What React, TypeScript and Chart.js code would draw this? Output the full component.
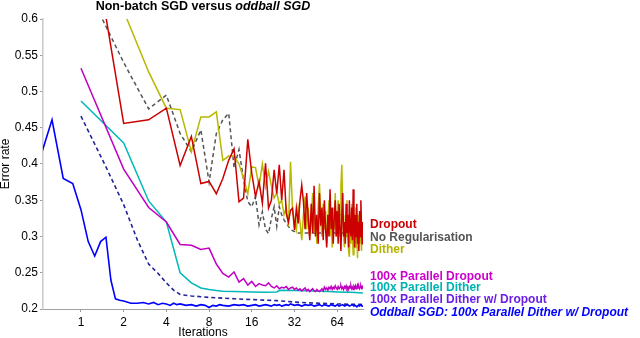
import React, { useEffect, useRef } from "react";
import { Chart, registerables } from "chart.js";

Chart.register(...registerables);

// ---------- data ----------
const iterations = [
  1, 2, 3, 4, 5, 6, 7, 8, 9, 10, 11, 12, 13, 14, 15, 16, 17, 18, 19, 20,
  21, 22, 23, 24, 25, 26, 27, 28, 29, 30, 31, 32, 33, 34, 35, 36, 37, 38, 39, 40,
  41, 42, 43, 44, 45, 46, 47, 48, 49, 50, 51, 52, 53, 54, 55, 56, 57, 58, 59, 60,
  61, 62, 63, 64, 65, 66, 67, 68, 69, 70, 71, 72, 73, 74, 75, 76, 77, 78, 79, 80,
  81, 82, 83, 84, 85, 86, 87, 88, 89, 90, 91, 92, 93, 94, 95, 96, 97,
];

const dropout = [
  0.81, 0.456, 0.461, 0.477, 0.398, 0.438, 0.373, 0.376, 0.359, 0.38,
  0.405, 0.421, 0.348, 0.353, 0.434, 0.387, 0.355, 0.376, 0.346, 0.401,
  0.339, 0.35, 0.392, 0.359, 0.399, 0.35, 0.392, 0.332, 0.32, 0.336,
  0.339, 0.309, 0.339, 0.318, 0.35, 0.371, 0.348, 0.31, 0.36, 0.325,
  0.295, 0.345, 0.305, 0.37, 0.3, 0.33, 0.29, 0.36, 0.315, 0.34,
  0.295, 0.35, 0.31, 0.285, 0.33, 0.3, 0.365, 0.31, 0.34, 0.29,
  0.325, 0.35, 0.3, 0.335, 0.29, 0.345, 0.31, 0.28, 0.33, 0.36,
  0.3, 0.32, 0.29, 0.345, 0.305, 0.33, 0.285, 0.35, 0.31, 0.3,
  0.34, 0.295, 0.365, 0.31, 0.285, 0.33, 0.3, 0.345, 0.29, 0.32,
  0.28, 0.335, 0.3, 0.35, 0.31, 0.29, 0.32,
];

const noRegularisation = [
  0.66, 0.54, 0.476, 0.495, 0.442, 0.417, 0.447, 0.375, 0.442, 0.461,
  0.47, 0.395, 0.42, 0.378, 0.348, 0.341, 0.355, 0.316, 0.334, 0.31,
  0.304, 0.325, 0.341, 0.314, 0.341, 0.33, 0.323, 0.318, 0.314, 0.31,
  0.308, 0.307, 0.305, 0.305, 0.305, 0.305, 0.305, 0.305, 0.305, 0.305,
  0.305, 0.305, 0.305, 0.305, 0.305, 0.305, 0.305, 0.305, 0.305, 0.305,
  0.305, 0.305, 0.305, 0.305, 0.305, 0.305, 0.305, 0.305, 0.305, 0.305,
  0.305, 0.305, 0.305, 0.305, 0.305, 0.305, 0.305, 0.305, 0.305, 0.305,
  0.305, 0.305, 0.305, 0.305, 0.305, 0.305, 0.305, 0.305, 0.305, 0.305,
  0.305, 0.305, 0.305, 0.305, 0.305, 0.305, 0.305, 0.305, 0.305, 0.305,
  0.305, 0.305, 0.305, 0.305, 0.305, 0.305, 0.305,
];

const dither = [
  0.75, 0.611, 0.527, 0.477, 0.475, 0.417, 0.465, 0.465, 0.472, 0.405,
  0.411, 0.411, 0.4, 0.38, 0.359, 0.396, 0.395, 0.369, 0.4, 0.369,
  0.39, 0.37, 0.353, 0.36, 0.345, 0.35, 0.33, 0.34, 0.314, 0.403,
  0.337, 0.32, 0.309, 0.339, 0.32, 0.295, 0.33, 0.355, 0.31, 0.34,
  0.3, 0.325, 0.36, 0.305, 0.33, 0.29, 0.34, 0.373, 0.32, 0.3,
  0.345, 0.31, 0.335, 0.29, 0.32, 0.35, 0.3, 0.33, 0.285, 0.34,
  0.31, 0.36, 0.3, 0.325, 0.35, 0.3, 0.33, 0.37, 0.399, 0.34,
  0.3, 0.285, 0.33, 0.3, 0.35, 0.31, 0.28, 0.272, 0.32, 0.29,
  0.345, 0.3, 0.275, 0.33, 0.3, 0.34, 0.285, 0.31, 0.27, 0.33,
  0.3, 0.29, 0.335, 0.3, 0.28, 0.31, 0.29,
];

const parallelDropout = [
  0.532, 0.393, 0.34, 0.32, 0.289, 0.288, 0.282, 0.284, 0.262, 0.249,
  0.244, 0.251, 0.237, 0.242, 0.233, 0.238, 0.231, 0.235, 0.233, 0.232,
  0.236, 0.231, 0.229, 0.232, 0.228, 0.23, 0.229, 0.231, 0.227, 0.229,
  0.23, 0.227, 0.229, 0.226, 0.228, 0.225, 0.227, 0.229, 0.225, 0.227,
  0.224, 0.226, 0.228, 0.225, 0.224, 0.227, 0.225, 0.224, 0.226, 0.228,
  0.225, 0.23, 0.227, 0.229, 0.226, 0.23, 0.228, 0.231, 0.227, 0.23,
  0.228, 0.232, 0.229, 0.227, 0.231, 0.228, 0.23, 0.232, 0.228, 0.23,
  0.227, 0.231, 0.229, 0.232, 0.228, 0.23, 0.227, 0.231, 0.229, 0.232,
  0.228, 0.23, 0.227, 0.231, 0.229, 0.232, 0.228, 0.23, 0.233, 0.229,
  0.231, 0.228, 0.23, 0.232, 0.229, 0.231, 0.229,
];

const parallelDitherX = [1, 2, 3, 4, 5, 6, 7, 8, 9, 10, 12, 14, 16, 20, 24, 25, 26, 32, 40, 48, 56, 64, 80, 97];
const parallelDither = [
  0.487, 0.429, 0.349, 0.32, 0.25, 0.236, 0.229, 0.227, 0.2255, 0.2245,
  0.224, 0.2238, 0.2235, 0.2232, 0.2235, 0.2255, 0.2258, 0.2255, 0.2252, 0.2245,
  0.224, 0.2235, 0.223, 0.2222,
];

const parallelDitherDropoutX = [1, 1.5, 2, 2.5, 3, 3.5, 4, 4.5, 5, 6, 7, 8, 9, 10, 12, 14, 16, 20, 24, 28, 32, 40, 48, 56, 64, 80, 97];
const parallelDitherDropout = [
  0.466, 0.396, 0.344, 0.295, 0.262, 0.249, 0.236, 0.226, 0.22, 0.218,
  0.217, 0.216, 0.2155, 0.215, 0.2142, 0.2135, 0.213, 0.2122, 0.2115, 0.2105,
  0.2095, 0.2085, 0.208, 0.2075, 0.207, 0.2065, 0.2062,
];

const oddballX = [
  0.5, 0.625, 0.75, 0.875, 1, 1.125, 1.25, 1.375, 1.5, 1.625, 1.75, 1.875, 2,
  2.25, 2.5, 2.75, 3, 3.25, 3.5, 3.75, 4, 4.25, 4.5, 4.75, 5, 5.5, 6, 6.5, 7, 7.5,
  8, 8.5, 9, 9.5, 10, 11, 12, 13, 14, 15, 16, 17, 18, 19, 20, 21, 22, 23, 24, 25,
  26, 27, 28, 29, 30, 32, 34, 36, 38, 40, 42, 44, 46, 48, 50, 52, 54, 56, 58, 60,
  62, 64, 66, 68, 70, 72, 74, 76, 78, 80, 82, 84, 86, 88, 90, 92, 94, 96, 97,
];
const oddball = [
  0.4, 0.461, 0.38, 0.373, 0.337, 0.293, 0.273, 0.293, 0.299, 0.24, 0.214, 0.212, 0.211,
  0.208, 0.208, 0.209, 0.207, 0.209, 0.206, 0.208, 0.207, 0.205, 0.208, 0.206, 0.207, 0.205, 0.206, 0.204, 0.206, 0.205,
  0.202, 0.205, 0.204, 0.206, 0.205, 0.204, 0.206, 0.205, 0.206, 0.204, 0.205, 0.206, 0.204, 0.205, 0.206, 0.205, 0.204, 0.206, 0.205, 0.206,
  0.204, 0.205, 0.206, 0.205, 0.207, 0.205, 0.206, 0.204, 0.206, 0.205, 0.206, 0.204, 0.205, 0.206, 0.204, 0.206, 0.205, 0.204, 0.206, 0.205,
  0.204, 0.206, 0.204, 0.205, 0.206, 0.204, 0.205, 0.206, 0.204, 0.205, 0.206, 0.204, 0.205, 0.203, 0.205, 0.204, 0.206, 0.204, 0.205,
];

const xTickValues = [1, 2, 4, 8, 16, 32, 64];

const seriesLabels = [
  "Dropout",
  "No Regularisation",
  "Dither",
  "100x Parallel Dropout",
  "100x Parallel Dither",
  "100x Parallel Dither w/ Dropout",
  "Oddball SGD: 100x Parallel Dither w/ Dropout",
];
// error-rate level at which each right-hand label is written
const labelLevels = [0.3168, 0.2983, 0.2814, 0.2446, 0.2294, 0.2134, 0.1949];

// ---------- styles ----------
const FONT = "'Liberation Sans', Arial, Helvetica, sans-serif";
const lineColors = ["#cc0000", "#555555", "#b8b800", "#c000c0", "#00b8b8", "#23239a", "#0000ff"];
const labelColors = ["#cc0000", "#555555", "#b3b300", "#cc00cc", "#00b3b3", "#6a1ee6", "#0000ff"];

const toXY = (xs: number[], ys: number[]) => xs.map((x, i) => ({ x, y: ys[i] }));

const textPlugin = {
  id: "textPlugin",
  afterDraw(chart: any) {
    const { ctx, chartArea, scales } = chart;
    const cx = (chartArea.left + chartArea.right) / 2;
    ctx.save();
    // title with italic part
    const part1 = "Non-batch SGD versus ";
    const part2 = "oddball SGD";
    ctx.fillStyle = "#000";
    ctx.textBaseline = "alphabetic";
    ctx.textAlign = "left";
    ctx.font = `bold 12.5px ${FONT}`;
    const w1 = ctx.measureText(part1).width;
    ctx.font = `italic bold 12.5px ${FONT}`;
    const w2 = ctx.measureText(part2).width;
    const startX = cx - (w1 + w2) / 2;
    ctx.font = `bold 12.5px ${FONT}`;
    ctx.fillText(part1, startX, 10);
    ctx.font = `italic bold 12.5px ${FONT}`;
    ctx.fillText(part2, startX + w1, 10);

    // x axis title
    ctx.font = `12px ${FONT}`;
    ctx.textAlign = "center";
    ctx.fillText("Iterations", cx, 336);

    // y axis title
    ctx.save();
    ctx.translate(9, (chartArea.top + chartArea.bottom) / 2);
    ctx.rotate(-Math.PI / 2);
    ctx.textAlign = "center";
    ctx.fillText("Error rate", 0, 0);
    ctx.restore();

    // right-hand series labels
    ctx.textAlign = "left";
    ctx.textBaseline = "middle";
    seriesLabels.forEach((lab, i) => {
      ctx.font = (i === 6 ? "italic " : "") + `bold 12px ${FONT}`;
      ctx.fillStyle = labelColors[i];
      ctx.fillText(lab, chartArea.right + 7, scales.y.getPixelForValue(labelLevels[i]));
    });
    ctx.restore();
  },
};

export default function App() {
  const ref = useRef<HTMLCanvasElement | null>(null);

  useEffect(() => {
    if (!ref.current) return;
    const common = { pointRadius: 0, tension: 0, fill: false, borderWidth: 1.5 };
    const chart = new Chart(ref.current, {
      type: "line",
      data: {
        datasets: [
          { ...common, label: seriesLabels[6], data: toXY(oddballX, oddball), borderColor: lineColors[6], borderWidth: 1.6 },
          { ...common, label: seriesLabels[0], data: toXY(iterations, dropout), borderColor: lineColors[0] },
          { ...common, label: seriesLabels[2], data: toXY(iterations, dither), borderColor: lineColors[2] },
          { ...common, label: seriesLabels[1], data: toXY(iterations, noRegularisation), borderColor: lineColors[1], borderDash: [4, 3] },
          { ...common, label: seriesLabels[3], data: toXY(iterations, parallelDropout), borderColor: lineColors[3] },
          { ...common, label: seriesLabels[4], data: toXY(parallelDitherX, parallelDither), borderColor: lineColors[4] },
          { ...common, label: seriesLabels[5], data: toXY(parallelDitherDropoutX, parallelDitherDropout), borderColor: lineColors[5], borderDash: [4, 3], borderWidth: 1.6 },
        ],
      },
      options: {
        responsive: false,
        animation: false,
        devicePixelRatio: 1,
        layout: { padding: { left: 0, top: 19, right: 277, bottom: 0 } },
        plugins: { legend: { display: false }, tooltip: { enabled: false }, title: { display: false } },
        scales: {
          x: {
            type: "logarithmic",
            min: 0.54,
            max: 97.3,
            afterBuildTicks: (scale: any) => {
              scale.ticks = xTickValues.map((v) => ({ value: v }));
            },
            afterFit: (scale: any) => {
              scale.height = 29;
            },
            grid: { drawOnChartArea: false, drawTicks: true, tickLength: 3, color: "#999" },
            border: { display: true, color: "#a0a0a0", width: 1 },
            ticks: {
              autoSkip: false,
              maxRotation: 0,
              padding: 3,
              color: "#000",
              font: { family: FONT, size: 12 },
              callback: (v: any) => String(v),
            },
          },
          y: {
            type: "linear",
            min: 0.2,
            max: 0.6,
            afterFit: (scale: any) => {
              scale.width = 43;
            },
            grid: { drawOnChartArea: false, drawTicks: true, tickLength: 3, color: "#999" },
            border: { display: true, color: "#c8c8c8", width: 1.5 },
            ticks: {
              stepSize: 0.05,
              padding: 2,
              color: "#000",
              font: { family: FONT, size: 12 },
              callback: (v: any) => String(Number(Number(v).toFixed(2))),
            },
          },
        },
      },
      plugins: [textPlugin],
    } as any);
    return () => chart.destroy();
  }, []);

  return (
    <div style={{ position: "absolute", left: 0, top: 0, width: 640, height: 338, background: "#fff" }}>
      <canvas ref={ref} width={640} height={338} style={{ width: 640, height: 338, display: "block" }} />
    </div>
  );
}
